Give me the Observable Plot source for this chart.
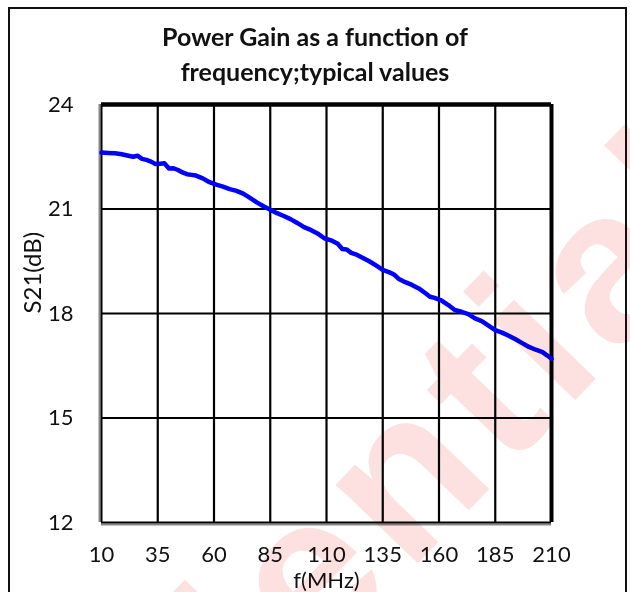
<!DOCTYPE html>
<html>
<head>
<meta charset="utf-8">
<script src="https://cdn.jsdelivr.net/npm/d3@7"></script>
<script src="https://cdn.jsdelivr.net/npm/@observablehq/plot@0.6"></script>
<style>
  html, body { margin: 0; padding: 0; background: #fff; }
  #wrap { position: relative; width: 630px; height: 592px; overflow: hidden; background: #fff; }
  #border { position: absolute; left: 8px; top: 7px; width: 619px; height: 700px;
            border: 2px solid #111; box-sizing: border-box; }
  #title { position: absolute; left: 0; top: 19px; width: 630px; text-align: center;
           font-family: Lato, "Open Sans", sans-serif; font-weight: bold; font-size: 25px;
           line-height: 35px; color: #111; }
  #chart { position: absolute; left: 0; top: 88px; }
  #wm { position: absolute; left: 0; top: 0; pointer-events: none; mix-blend-mode: multiply; }
</style>
</head>
<body>
<div id="wrap">
  <div id="border"></div>
  <div id="title">Power Gain as a function of<br>frequency;typical values</div>
  <div id="chart"></div>
  <svg id="wm" width="630" height="592">
    <text x="-207" y="1210" transform="rotate(-46 -207 1210)" font-family="Liberation Sans, Arial, sans-serif"
          font-weight="bold" font-size="215" letter-spacing="12" fill="#fde0e0">Confidential</text>
  </svg>
</div>
<script>
// Frequency (MHz)
const freq = [10,13,16,19,22,24,26,28,30,32,34,36,38,40,42,44,46,48,50,52,55,58,61,64,67,70,73,76,79,82,85,88,91,94,97,100,103,106,109,112,115,117,119,121,123,126,129,132,135,138,140,142,145,148,151,154,156,158,161,164,167,170,173,176,179,182,185,188,191,194,197,200,203,206,208,210];
// S21 (dB)
const s21 = [22.62,22.61,22.60,22.57,22.53,22.50,22.53,22.44,22.41,22.36,22.29,22.30,22.31,22.16,22.17,22.12,22.05,22.00,21.98,21.96,21.88,21.77,21.70,21.64,21.57,21.52,21.44,21.32,21.19,21.08,20.98,20.88,20.80,20.71,20.60,20.48,20.40,20.30,20.16,20.10,20.00,19.85,19.84,19.74,19.70,19.60,19.50,19.38,19.25,19.18,19.12,19.00,18.90,18.82,18.72,18.58,18.48,18.45,18.38,18.25,18.10,18.05,17.98,17.86,17.78,17.65,17.52,17.45,17.36,17.26,17.15,17.04,16.96,16.89,16.80,16.70];
const xTicks = [10,35,60,85,110,135,160,185,210];
const yTicks = [12,15,18,21,24];
const xLabel = "f(MHz)";
const yLabel = "S21(dB)";

const data = freq.map((f, i) => ({f, s: s21[i]}));
const innerX = xTicks.slice(1, -1);
const innerY = yTicks.slice(1, -1);

const chart = Plot.plot({
  width: 630,
  height: 504,
  marginTop: 16,
  marginBottom: 70,
  marginLeft: 101,
  marginRight: 79,
  style: {fontFamily: "Lato, 'Open Sans', sans-serif", fontSize: "22px", color: "#111", background: "transparent"},
  x: {domain: [10, 210]},
  y: {domain: [12, 24]},
  marks: [
    Plot.ruleX(innerX, {stroke: "#000", strokeWidth: 2.2}),
    Plot.ruleY(innerY, {stroke: "#000", strokeWidth: 2.2}),
    Plot.ruleX([10], {stroke: "#888", strokeWidth: 2, dx: -2}),
    Plot.ruleX([10], {stroke: "#000", strokeWidth: 2}),
    Plot.ruleY([12], {stroke: "#888", strokeWidth: 2, dy: 2}),
    Plot.ruleY([12], {stroke: "#000", strokeWidth: 2}),
    Plot.ruleY([24], {stroke: "#000", strokeWidth: 4.5}),
    Plot.ruleX([210], {stroke: "#000", strokeWidth: 4}),
    Plot.line(data, {x: "f", y: "s", stroke: "#0000ff", strokeWidth: 4.5, strokeLinejoin: "round"}),
    Plot.axisX({ticks: xTicks, tickSize: 0, tickPadding: 24, label: null, fontSize: 22}),
    Plot.axisY({ticks: yTicks, tickSize: 0, tickPadding: 28, label: null, fontSize: 22}),
    Plot.text([yLabel], {frameAnchor: "left", dx: -68, rotate: -90, fontSize: 24, lineAnchor: "middle", fill: "#111"}),
    Plot.text([xLabel], {frameAnchor: "bottom", dy: 58, fontSize: 22, lineAnchor: "middle", fill: "#111"})
  ]
});
document.getElementById("chart").appendChild(chart);
</script>
</body>
</html>
